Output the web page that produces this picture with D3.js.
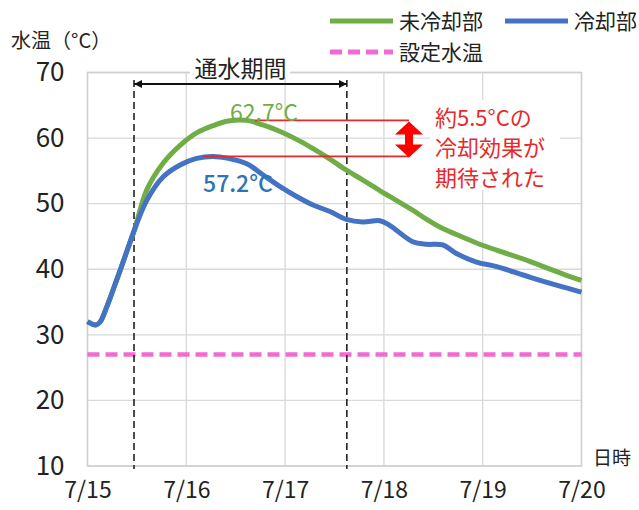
<!DOCTYPE html>
<html>
<head>
<meta charset="utf-8">
<script src="https://cdn.jsdelivr.net/npm/d3@7"></script>
<style>
  html, body { margin: 0; padding: 0; background: #ffffff; }
  svg { display: block; }
  text { font-family: "Noto Sans CJK JP", "Noto Sans", sans-serif; }
</style>
</head>
<body>
<svg id="chart" width="639" height="510"></svg>
<script>
// Elapsed time in hours from 7/15 00:00
const hours = [0, 2, 3.1, 4.7, 6.3, 8.7, 11.4, 14.4, 18.4, 22.5, 26.5, 30.5, 34.2, 38.7, 42.6,
  46.8, 50.8, 54.8, 58.9, 62.9, 66.9, 71.0, 73.4, 79.0, 82.4, 86.3, 89.6, 94.5, 99.4, 107.4, 115.4, 120];

// Water temperature, uncooled section (°C)
const uncooled = [32.0, 31.5, 32.0, 34.3, 37.0, 41.2, 46.0, 52.1, 56.2, 58.9, 60.8, 61.9, 62.6, 62.7, 62.0,
  61.0, 59.8, 58.4, 56.8, 55.1, 53.6, 52.0, 51.1, 49.0, 47.6, 46.2, 45.3, 44.0, 42.9, 41.2, 39.3, 38.3];

// Water temperature, cooled section (°C)
const cooled = [32.0, 31.5, 32.0, 34.3, 37.0, 41.2, 46.0, 50.5, 54.1, 55.9, 56.9, 57.2, 56.9, 56.1, 54.4,
  52.6, 51.1, 49.8, 48.8, 47.6, 47.2, 47.4, 46.7, 44.2, 43.8, 43.7, 42.4, 41.1, 40.4, 38.8, 37.3, 36.5];

const setTemp = 27;                       // set water temperature
const flowStart = 11.3, flowEnd = 63.0;   // water flow period (hours)
const peakUncooled = 62.7, peakUncooledAt = 38.7;
const peakCooled = 57.2, peakCooledAt = 30.5;

const xTickHours = [0, 24, 48, 72, 96, 120];
const xTickLabels = ["7/15", "7/16", "7/17", "7/18", "7/19", "7/20"];
const yTicks = [10, 20, 30, 40, 50, 60, 70];

const legendItems = ["未冷却部", "冷却部", "設定水温"];
const noteLines = ["約5.5°Cの", "冷却効果が", "期待された"];

const GREEN = "#70ad47", BLUE = "#4472c4", PINK = "#f26bd0", RED = "#e8292b";

const svg = d3.select("#chart");
const plot = { left: 87.5, right: 581.5, top: 72.5, bottom: 466 };

const x = d3.scaleLinear().domain([0, 120]).range([plot.left, plot.right]);
const y = d3.scaleLinear().domain([10, 70]).range([plot.bottom, plot.top]);

// Grid
const grid = svg.append("g");
grid.selectAll("line.h").data(yTicks).join("line")
  .attr("x1", plot.left).attr("x2", plot.right)
  .attr("y1", d => y(d)).attr("y2", d => y(d))
  .attr("stroke", "#d9d9d9").attr("stroke-width", 1.3);
grid.selectAll("line.v").data(xTickHours).join("line")
  .attr("y1", plot.top).attr("y2", plot.bottom)
  .attr("x1", d => x(d)).attr("x2", d => x(d))
  .attr("stroke", "#d9d9d9").attr("stroke-width", 1.3);
svg.append("rect")
  .attr("x", plot.left).attr("y", plot.top)
  .attr("width", plot.right - plot.left).attr("height", plot.bottom - plot.top)
  .attr("fill", "none").attr("stroke", "#cfcfcf").attr("stroke-width", 1.5);

// Axes (labels only)
const yAxis = d3.axisLeft(y).tickValues(yTicks).tickSize(0).tickPadding(23);
svg.append("g").attr("transform", `translate(${plot.left},0)`).call(yAxis)
  .call(g => g.select(".domain").remove())
  .selectAll("text").attr("font-size", 26).attr("fill", "#222")
  .style("font-family", '"Noto Sans CJK JP", sans-serif');

const xAxis = d3.axisBottom(x).tickValues(xTickHours)
  .tickFormat((d, i) => xTickLabels[i]).tickSize(0).tickPadding(16);
svg.append("g").attr("transform", `translate(0,${plot.bottom})`).call(xAxis)
  .call(g => g.select(".domain").remove())
  .selectAll("text").attr("font-size", 23).attr("fill", "#222")
  .style("font-family", '"Noto Sans CJK JP", sans-serif');

// Axis titles
svg.append("text").attr("x", 11).attr("y", 48).attr("font-size", 20).attr("fill", "#222")
  .text("水温（°C）");
svg.append("text").attr("x", 593).attr("y", 465).attr("font-size", 19).attr("fill", "#222")
  .text("日時");

// Set water temperature
svg.append("line")
  .attr("x1", plot.left).attr("x2", plot.right)
  .attr("y1", y(setTemp)).attr("y2", y(setTemp))
  .attr("stroke", PINK).attr("stroke-width", 4.5).attr("stroke-dasharray", "12,6");

// Water flow period markers
[flowStart, flowEnd].forEach(h => {
  svg.append("line")
    .attr("x1", x(h)).attr("x2", x(h))
    .attr("y1", 80).attr("y2", plot.bottom + 3)
    .attr("stroke", "#222").attr("stroke-width", 1.6).attr("stroke-dasharray", "7,4");
});
const defs = svg.append("defs");
defs.append("marker").attr("id", "blackHead")
  .attr("viewBox", "0 0 10 10").attr("refX", 10).attr("refY", 5)
  .attr("markerWidth", 8).attr("markerHeight", 8).attr("markerUnits", "userSpaceOnUse")
  .attr("orient", "auto-start-reverse")
  .append("path").attr("d", "M0,0 L10,5 L0,10 Z").attr("fill", "#111");
svg.append("line")
  .attr("x1", x(flowStart)).attr("x2", x(flowEnd))
  .attr("y1", 84).attr("y2", 84)
  .attr("stroke", "#111").attr("stroke-width", 1.8)
  .attr("marker-start", "url(#blackHead)").attr("marker-end", "url(#blackHead)");
svg.append("rect").attr("x", 190).attr("y", 57).attr("width", 100).attr("height", 20).attr("fill", "#fff");
svg.append("text").attr("x", (x(flowStart) + x(flowEnd)) / 2).attr("y", 77)
  .attr("text-anchor", "middle").attr("font-size", 23).attr("fill", "#222")
  .text("通水期間");

// Series lines
const line = d3.line().x((d, i) => x(hours[i])).y(d => y(d)).curve(d3.curveCatmullRom.alpha(0.5));
svg.append("path").datum(uncooled).attr("d", line)
  .attr("fill", "none").attr("stroke", GREEN).attr("stroke-width", 5).attr("stroke-linejoin", "round");
svg.append("path").datum(cooled).attr("d", line)
  .attr("fill", "none").attr("stroke", BLUE).attr("stroke-width", 5).attr("stroke-linejoin", "round");

// Peak reference lines and cooling effect arrow
const arrowX = 409;
svg.append("line")
  .attr("x1", x(peakUncooledAt) + 8).attr("x2", arrowX)
  .attr("y1", y(peakUncooled)).attr("y2", y(peakUncooled))
  .attr("stroke", RED).attr("stroke-width", 1.8);
svg.append("line")
  .attr("x1", x(peakCooledAt) - 10).attr("x2", arrowX)
  .attr("y1", y(peakCooled)).attr("y2", y(peakCooled))
  .attr("stroke", RED).attr("stroke-width", 1.8);
const yTop = y(peakUncooled) + 1, yBot = y(peakCooled) + 1;
const headH = 13, headW = 14, shaftW = 4;
svg.append("path")
  .attr("d", [
    `M${arrowX},${yTop}`,
    `L${arrowX + headW},${yTop + headH}`,
    `L${arrowX + shaftW},${yTop + headH}`,
    `L${arrowX + shaftW},${yBot - headH}`,
    `L${arrowX + headW},${yBot - headH}`,
    `L${arrowX},${yBot}`,
    `L${arrowX - headW},${yBot - headH}`,
    `L${arrowX - shaftW},${yBot - headH}`,
    `L${arrowX - shaftW},${yTop + headH}`,
    `L${arrowX - headW},${yTop + headH}`, "Z"].join(" "))
  .attr("fill", "#ff0000");

// Note text
svg.append("rect").attr("x", 430).attr("y", 100).attr("width", 130).attr("height", 90).attr("fill", "#fff");
svg.selectAll("text.note").data(noteLines).join("text")
  .attr("x", 435).attr("y", (d, i) => 126 + i * 30)
  .attr("font-size", 22).attr("fill", RED)
  .text(d => d);

// Peak labels
svg.append("text").attr("x", 264).attr("y", 121).attr("text-anchor", "middle")
  .attr("font-size", 23).attr("fill", GREEN).text(peakUncooled.toFixed(1) + "°C");
svg.append("text").attr("x", 238).attr("y", 192).attr("text-anchor", "middle")
  .attr("font-size", 23).attr("font-weight", 500).attr("fill", "#2e75b6").text(peakCooled.toFixed(1) + "°C");

// Legend
const legend = svg.append("g");
const legendRows = [
  { x: 330, y: 21, color: GREEN, dash: null, label: legendItems[0] },
  { x: 505, y: 21, color: BLUE, dash: null, label: legendItems[1] },
  { x: 330, y: 52, color: PINK, dash: "12,6", label: legendItems[2] }
];
legendRows.forEach(r => {
  legend.append("line")
    .attr("x1", r.x).attr("x2", r.x + 63).attr("y1", r.y).attr("y2", r.y)
    .attr("stroke", r.color).attr("stroke-width", 5)
    .attr("stroke-dasharray", r.dash);
  legend.append("text").attr("x", r.x + 69).attr("y", r.y + 8)
    .attr("font-size", 21).attr("fill", "#222").text(r.label);
});
</script>
</body>
</html>
